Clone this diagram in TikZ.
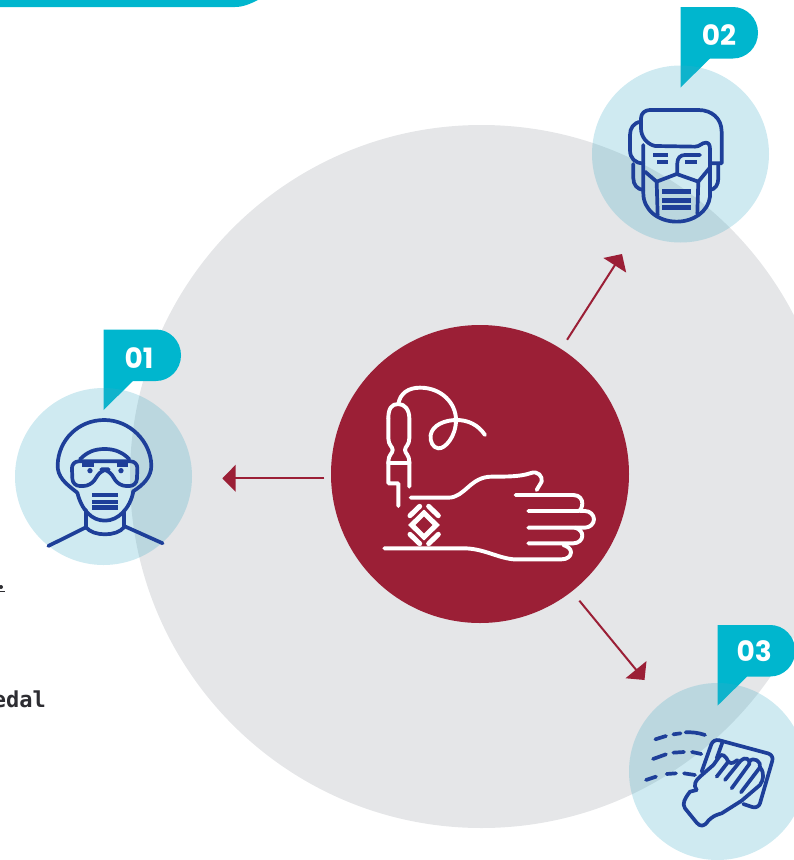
\documentclass[tikz,border=0pt]{standalone}
\usepackage{fontspec}
\usetikzlibrary{arrows.meta}
\newfontfamily\tagfont{Poppins}
\newfontfamily\sidefont{DejaVu Sans Mono}
\definecolor{greydisc}{RGB}{229,230,232}
\definecolor{tagteal}{RGB}{0,182,206}
\definecolor{workerblue}{RGB}{62,172,200}
\definecolor{iconblue}{RGB}{30,63,153}
\definecolor{hubred}{RGB}{155,31,54}
\definecolor{sidetext}{RGB}{45,45,50}
\tikzset{
  workerdisc/.style={circle,fill=workerblue,fill opacity=.25,minimum size=177pt,inner sep=0,outer sep=0},
  taglabel/.style={text=white,inner sep=0,font=\tagfont\bfseries\fontsize{28}{28}\selectfont},
  iconline/.style={draw=iconblue,line width=3.7pt,line cap=round,line join=round},
  iconbar/.style={draw=iconblue,line width=4.4pt},
  handline/.style={draw=white,line width=3.9pt,line cap=round,line join=round},
  markline/.style={handline,line width=5pt},
  redarrow/.style={draw=hubred,fill=hubred,line width=2pt,-{Triangle[length=13.4pt,width=26.7pt]}},
  tagshape/.pic={\fill [tagteal] (0,0) -- (52.5,0) arc [start angle=90,end angle=-90,x radius=25,y radius=-25.75]
    -- (29.5,51.5) -- (0,80.5) -- cycle;}
}
\begin{document}
\begin{tikzpicture}[x=1pt,y=-1pt]
\clip (0,0) rectangle (794,860);
\fill [greydisc] (481.5,476.5) circle [radius=351.5];
\fill [tagteal] (0,0) -- (258,0) .. controls (250,4) and (243,7) .. (235,7) -- (0,7) -- cycle;
\pic at (103.5,329.5) {tagshape};
\pic at (680.5,7) {tagshape};
\pic at (717.7,625) {tagshape};
\node (worker1) at (103.5,476.5) [workerdisc] {};
\node (worker2) at (680.5,154) [workerdisc] {};
\node (worker3) at (717.5,771.5) [workerdisc] {};
\node (tag1) at (139,357.7) [taglabel] {01};
\node (tag2) at (719,35) [taglabel] {02};
\node (tag3) at (754.3,650.7) [taglabel] {03};
% side text
\node (sideword) at (46,707.5) [anchor=base east,inner sep=0,text=sidetext,font=\sidefont\bfseries\fontsize{22}{22}\selectfont] {edal};
\fill [sidetext] (1,587) circle [radius=2];
\draw [sidetext,line width=1pt] (0,591.7) -- (5,591.7);
% worker with net and goggles
\begin{scope}[shift={(0,320)},x=0.3333pt,y=-0.3333pt]
\draw [iconline] (232,518) .. controls (195,490) and (172,470) .. (173,435) .. controls (175,360) and (235,300) .. (313,300)
  .. controls (390,300) and (452,365) .. (454,435) .. controls (455,470) and (430,495) .. (398,515);
\draw [iconline] (240,418) .. controls (262,395) and (285,387) .. (315,387) .. controls (345,387) and (370,398) .. (388,418);
\draw [iconline,rounded corners=7pt] (215,424) -- (413,424) -- (410,498) -- (357,498) -- (325,448) -- (305,448) -- (272,498) -- (218,498) -- cycle;
\draw [iconbar,line width=3.6pt] (247,435) -- (283,435);
\draw [iconbar,line width=3.6pt] (350,435) -- (385,435);
\fill [iconblue] (270,452) circle [radius=8];
\fill [iconblue] (363,452) circle [radius=8];
\draw [iconline] (232,518) .. controls (245,570) and (275,602) .. (315,602) .. controls (355,602) and (390,565) .. (400,515);
\draw [iconbar] (276,525) -- (354,525);
\draw [iconbar] (276,546) -- (354,546);
\draw [iconbar] (276,562) -- (354,562);
\draw [iconline] (258,570) -- (258,622) .. controls (280,650) and (350,650) .. (372,622) -- (372,572);
\draw [iconline] (258,622) -- (145,678);
\draw [iconline] (372,618) -- (488,670);
\end{scope}
% worker with surgical mask
\begin{scope}[shift={(580,0)},x=0.3333pt,y=-0.3333pt]
\draw [iconline] (225,438) .. controls (200,432) and (183,410) .. (183,385) -- (183,355) .. controls (183,340) and (195,330) .. (210,330)
  -- (355,330) .. controls (395,330) and (425,355) .. (425,395) -- (425,490) -- (390,490);
\draw [iconline] (225,438) -- (345,440) .. controls (360,440) and (365,428) .. (378,428) .. controls (388,428) and (390,438) .. (390,448) -- (390,590)
  .. controls (385,635) and (340,665) .. (290,665) .. controls (235,665) and (190,630) .. (190,580) -- (190,435);
\draw [iconline] (183,365) .. controls (160,368) and (150,385) .. (150,405) -- (150,450) .. controls (150,475) and (165,490) .. (190,490);
\draw [iconline] (160,492) -- (160,535) .. controls (160,555) and (172,568) .. (190,570);
\draw [iconline] (415,492) -- (415,535) .. controls (415,555) and (405,568) .. (390,570);
\draw [iconline] (360,465) -- (315,465) .. controls (300,465) and (292,475) .. (292,490) -- (292,520);
\draw [iconline,line cap=butt] (220,465) -- (265,465);
\draw [iconline,line cap=butt] (232,485) -- (265,485);
\draw [iconline,line cap=butt] (315,485) -- (350,485);
\draw [iconline] (195,515) -- (230,545) -- (290,522) -- (355,545) -- (388,505);
\draw [iconline] (230,545) -- (233,645);
\draw [iconline] (355,545) -- (352,640);
\draw [iconbar] (247,575) -- (333,575);
\draw [iconbar] (247,602) -- (333,602);
\draw [iconbar] (247,623) -- (333,623);
\end{scope}
% dashes behind the cloth
\begin{scope}[shift={(620,620)},x=0.3333pt,y=-0.3333pt]
\draw [iconline] (106,358) -- (138,348);
\draw [iconline] (160,343) -- (182,340);
\draw [iconline] (197,337) .. controls (215,336) and (235,338) .. (255,345);
\draw [iconline] (99,417) -- (138,403);
\draw [iconline] (160,398) -- (192,396);
\draw [iconline] (216,396) -- (244,402);
\draw [iconline] (78,480) -- (108,470);
\draw [iconline] (140,462) -- (168,460);
\draw [iconline] (192,460) -- (225,465);
\end{scope}
% cloth and hand
\begin{scope}[shift={(680,730)},x=0.3333pt,y=-0.3333pt]
\draw [iconline,rounded corners=6pt] (65,125) -- (100,26) -- (282,75) -- (235,237) -- (190,222);
\draw [iconline] (128,35) -- (110,85);
\draw [iconline] (50,180) .. controls (38,165) and (48,150) .. (60,140) -- (100,105) -- (118,80) .. controls (125,68) and (138,78) .. (145,95) -- (110,140);
\draw [iconline] (145,95) .. controls (155,105) and (165,95) .. (172,90);
\draw [iconline] (135,150) -- (182,92) .. controls (195,78) and (212,88) .. (208,102) -- (155,175);
\draw [iconline] (208,95) .. controls (220,78) and (245,95) .. (240,112) -- (183,187);
\draw [iconline] (240,112) .. controls (255,130) and (250,150) .. (240,165) -- (185,212) -- (125,250) .. controls (105,255) and (95,262) .. (85,272)
  .. controls (72,292) and (60,290) .. (50,278) -- (15,235) .. controls (5,220) and (15,205) .. (30,185) -- (50,180);
\end{scope}
% hub and its icon
\node (hub) at (480,474) [circle,fill=hubred,minimum size=298pt,inner sep=0,outer sep=0] {};
\begin{scope}[shift={(370,375)},x=0.3333pt,y=-0.3333pt]
\draw [handline] (55,130) .. controls (55,100) and (65,87) .. (85,87) .. controls (105,87) and (118,105) .. (118,130) -- (118,190)
  .. controls (118,210) and (105,215) .. (105,225) .. controls (105,235) and (118,240) .. (118,260) -- (118,335);
\draw [handline] (55,130) -- (55,190) .. controls (55,210) and (68,215) .. (68,225) .. controls (68,235) and (55,240) .. (55,260) -- (55,325) -- (85,325) -- (85,393);
\draw [handline] (55,263) -- (118,263);
\draw [handline] (85,87) .. controls (90,55) and (115,38) .. (150,38) .. controls (215,38) and (258,85) .. (258,135)
  .. controls (258,185) and (225,222) .. (205,220) .. controls (188,218) and (180,200) .. (182,180) .. controls (187,150) and (225,135) .. (260,135)
  .. controls (295,135) and (325,150) .. (345,180);
\draw [handline] (122,368) -- (235,368) .. controls (285,368) and (300,305) .. (365,305) .. controls (410,305) and (450,305) .. (480,295)
  .. controls (505,285) and (518,305) .. (515,320) -- (500,345);
\draw [handline] (437,360) -- (610,360) .. controls (630,360) and (637,375) .. (637,385) .. controls (637,395) and (632,408) .. (625,408) -- (475,408);
\draw [handline] (630,408) -- (645,408) .. controls (660,408) and (672,420) .. (672,433) .. controls (672,446) and (660,458) .. (645,458) -- (475,458);
\draw [handline] (615,458) .. controls (630,462) and (637,472) .. (637,482) .. controls (637,495) and (625,505) .. (610,505) -- (475,505);
\draw [handline] (580,510) .. controls (595,515) and (603,522) .. (603,532) .. controls (603,545) and (590,553) .. (575,553) -- (430,553)
  .. controls (380,548) and (340,520) .. (280,520) -- (43,520);
\end{scope}
% tattoo mark
\begin{scope}[shift={(400,495)},x=0.3333pt,y=-0.3333pt]
\draw [markline,line join=miter] (72,54) -- (109,90) -- (72,126) -- (35,90) -- cycle;
\draw [markline] (30,62) -- (59,34);
\draw [markline] (86,34) -- (115,62);
\draw [markline] (30,118) -- (59,146);
\draw [markline] (86,146) -- (115,118);
\end{scope}
% arrows out of the hub
\coordinate (tip1) at (222.3,478.3);
\coordinate (tip2) at (622,254);
\coordinate (tip3) at (644.5,680);
\draw [redarrow,shorten <=7pt] ([yshift=-4.3pt]hub.west) -- (tip1);
\draw [redarrow,shorten <=11pt] (hub.57.5) -- (tip2);
\draw [redarrow,shorten <=12pt] (hub.-52.2) -- (tip3);
\end{tikzpicture}
\end{document}
